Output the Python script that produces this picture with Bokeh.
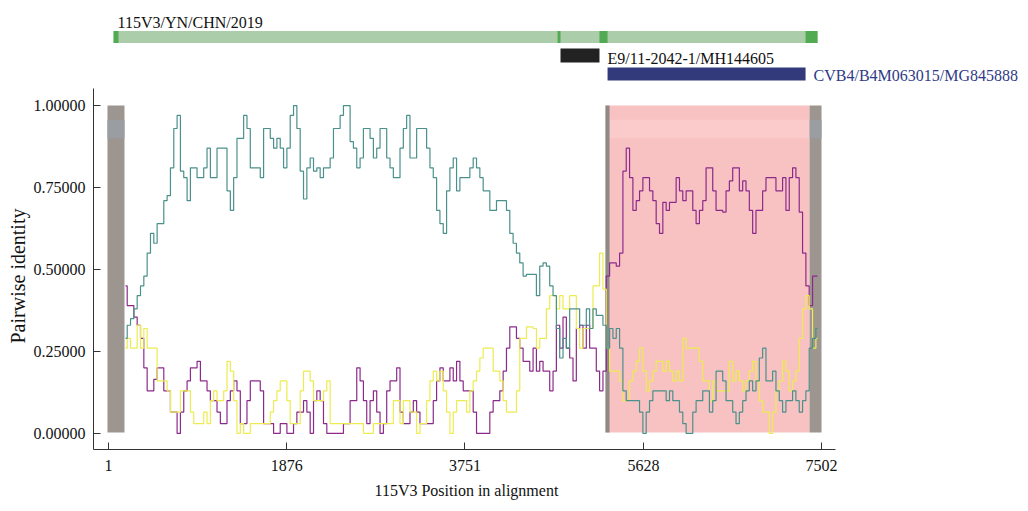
from bokeh.plotting import figure
from bokeh.models import Range1d, FixedTicker, NumeralTickFormatter, Title
from bokeh.embed import file_html
from bokeh.resources import INLINE
from bokeh.core.properties import value

# ---------------- data ----------------
positions = list(range(180, 7495, 35))

teal = [0.29,0.33,0.35,0.38,0.42,0.45,0.48,0.55,0.61,0.58,
0.64,0.64,0.71,0.725,0.81,0.93,0.97,0.80,0.78,0.71,
0.81,0.81,0.78,0.78,0.81,0.87,0.78,0.78,0.87,0.87,
0.87,0.74,0.68,0.78,0.90,0.90,0.97,0.93,0.81,0.81,
0.81,0.78,0.93,0.93,0.90,0.87,0.90,0.87,0.81,0.87,
0.97,1.00,0.93,0.80,0.715,0.81,0.84,0.80,0.81,0.78,
0.81,0.81,0.84,0.93,0.93,0.97,1.00,1.00,0.89,0.87,
0.81,0.84,0.93,0.93,0.90,0.84,0.87,0.93,0.93,0.84,
0.81,0.78,0.78,0.87,0.93,0.97,0.84,0.84,0.93,0.93,
0.93,0.87,0.81,0.78,0.68,0.64,0.61,0.74,0.81,0.84,
0.74,0.78,0.78,0.78,0.81,0.84,0.81,0.78,0.74,0.74,
0.68,0.68,0.71,0.71,0.71,0.68,0.61,0.58,0.55,0.52,
0.48,0.485,0.485,0.485,0.42,0.51,0.52,0.51,0.45,0.42,
0.32,0.23,0.29,0.26,0.38,0.38,0.38,0.33,0.33,0.38,
0.32,0.38,0.36,0.36,0.33,0.26,0.32,0.29,0.32,0.26,
0.13,0.10,0.10,0.10,0.10,0.065,0.00,0.065,0.10,0.13,
0.13,0.13,0.13,0.10,0.13,0.10,0.10,0.065,0.03,0.00,
0.00,0.065,0.10,0.10,0.13,0.13,0.065,0.10,0.19,0.19,
0.16,0.10,0.10,0.065,0.03,0.065,0.10,0.13,0.16,0.13,
0.16,0.23,0.26,0.16,0.16,0.19,0.13,0.10,0.065,0.10,
0.10,0.13,0.10,0.065,0.10,0.13,0.26,0.29,0.32]

purple = [0.45,0.39,0.39,0.355,0.33,0.29,0.20,0.13,0.13,0.165,
0.20,0.20,0.13,0.13,0.065,0.065,0.00,0.065,0.13,0.16,
0.20,0.20,0.22,0.16,0.16,0.13,0.10,0.10,0.065,0.03,
0.03,0.10,0.13,0.16,0.13,0.03,0.03,0.10,0.16,0.16,
0.16,0.13,0.03,0.03,0.03,0.00,0.00,0.03,0.03,0.00,
0.00,0.03,0.065,0.065,0.10,0.065,0.00,0.10,0.13,0.10,
0.03,0.00,0.00,0.00,0.00,0.00,0.03,0.03,0.10,0.10,
0.20,0.16,0.10,0.03,0.10,0.13,0.065,0.00,0.03,0.13,
0.16,0.16,0.20,0.065,0.03,0.03,0.065,0.10,0.065,0.03,
0.03,0.03,0.03,0.10,0.16,0.20,0.16,0.16,0.20,0.16,
0.22,0.16,0.13,0.13,0.13,0.065,0.00,0.00,0.00,0.00,
0.065,0.10,0.10,0.13,0.19,0.26,0.325,0.325,0.29,0.26,
0.22,0.22,0.19,0.26,0.19,0.22,0.19,0.19,0.13,0.19,
0.33,0.26,0.355,0.26,0.23,0.16,0.32,0.33,0.26,0.33,
0.26,0.26,0.19,0.13,0.19,0.48,0.52,0.52,0.51,0.55,
0.80,0.87,0.78,0.68,0.71,0.74,0.78,0.78,0.74,0.71,
0.64,0.61,0.705,0.68,0.705,0.705,0.78,0.74,0.71,0.74,
0.74,0.68,0.64,0.68,0.71,0.81,0.81,0.74,0.68,0.68,
0.675,0.74,0.77,0.81,0.81,0.74,0.77,0.74,0.68,0.61,
0.68,0.68,0.74,0.78,0.78,0.78,0.74,0.74,0.78,0.68,
0.78,0.81,0.78,0.675,0.55,0.45,0.39,0.48,0.48]

yellow = [0.26,0.29,0.26,0.26,0.33,0.26,0.32,0.26,0.26,0.26,
0.16,0.16,0.16,0.13,0.065,0.065,0.065,0.13,0.13,0.13,
0.065,0.03,0.03,0.03,0.065,0.03,0.10,0.13,0.10,0.10,
0.13,0.22,0.19,0.10,0.00,0.03,0.00,0.00,0.03,0.03,
0.03,0.03,0.03,0.03,0.065,0.10,0.13,0.16,0.16,0.10,
0.03,0.03,0.03,0.13,0.19,0.19,0.16,0.10,0.10,0.10,
0.13,0.16,0.03,0.03,0.03,0.03,0.03,0.03,0.03,0.03,
0.03,0.03,0.00,0.00,0.00,0.03,0.03,0.03,0.03,0.03,
0.03,0.10,0.10,0.03,0.10,0.10,0.065,0.065,0.00,0.03,
0.03,0.10,0.16,0.19,0.16,0.19,0.13,0.065,0.00,0.065,
0.10,0.10,0.10,0.065,0.13,0.16,0.19,0.23,0.26,0.26,
0.26,0.19,0.19,0.16,0.10,0.065,0.065,0.065,0.13,0.29,
0.29,0.325,0.325,0.32,0.26,0.29,0.29,0.38,0.42,0.42,
0.38,0.42,0.38,0.38,0.42,0.42,0.32,0.26,0.32,0.32,
0.32,0.45,0.45,0.55,0.44,0.26,0.19,0.19,0.19,0.16,
0.10,0.10,0.16,0.19,0.22,0.26,0.19,0.13,0.16,0.19,
0.22,0.22,0.19,0.22,0.19,0.16,0.19,0.16,0.29,0.26,
0.26,0.26,0.26,0.22,0.16,0.16,0.10,0.16,0.13,0.13,
0.13,0.13,0.22,0.16,0.19,0.16,0.13,0.16,0.19,0.22,
0.16,0.10,0.065,0.065,0.00,0.065,0.13,0.16,0.22,0.19,
0.13,0.16,0.19,0.29,0.38,0.42,0.38,0.26,0.29]

x_ticks = [1, 1876, 3751, 5628, 7502]
y_ticks = [0.0, 0.25, 0.5, 0.75, 1.0]

# shaded regions in the identity plot
region_start = [-10, 5240, 7376]
region_end = [169, 7376, 7502]
region_color = ["#9d9590", "#f8c2c2", "#9d9590"]
strip_color = ["#9a9ea2", "#fbcaca", "#9a9ea2"]
strip_low, strip_high = 0.90, 0.957
edge_start, edge_end = 5228, 5272

# genome map on top
genome_start, genome_end = 54, 7460
mark_start = [54, 4725, 5166, 7334]
mark_end = [106, 4756, 5251, 7460]
e9_start, e9_end = 4756, 5166
cvb4_start, cvb4_end = 5251, 7334
label_names = ["115V3/YN/CHN/2019", "E9/11-2042-1/MH144605", "CVB4/B4M063015/MG845888"]
label_pos = [96, 5251, 7418]

FONT = "Liberation Serif"

# ---------------- geometry ----------------
W, H = 1024, 508
LEFT, BOTTOM = 93, 59
X0, XEND = -157, 7649          # span of the x axis line
Y0, YEND = -0.049, 1.052       # span of the y axis line
frame_w = W - LEFT
frame_h = H - BOTTOM
px_per_x = 742.0 / (XEND - X0)
px_per_y = 361.0 / (YEND - Y0)
X1 = X0 + frame_w / px_per_x
Y1 = Y0 + frame_h / px_per_y


def row(px_from_top):
    """vertical layout position (pixels from top of plot) -> y data value"""
    return Y1 - px_from_top / px_per_y


p = figure(width=W, height=H, output_backend="svg", toolbar_location=None,
           x_range=Range1d(X0, X1), y_range=Range1d(Y0, Y1),
           min_border_left=LEFT, min_border_right=0,
           min_border_top=0, min_border_bottom=BOTTOM)
p.grid.visible = False
p.outline_line_color = None

# ---- genome map ----
g_top, g_bot = row(30.5), row(42.5)
p.quad(left=[genome_start], right=[genome_end], bottom=[g_bot], top=[g_top],
       fill_color="#abcdaa", line_color=None)
p.quad(left=mark_start, right=mark_end, bottom=[g_bot]*4, top=[g_top]*4,
       fill_color="#52aa52", line_color=None)
p.quad(left=[e9_start], right=[e9_end], bottom=[row(62)], top=[row(48)],
       fill_color="#222222", line_color=None)
p.quad(left=[cvb4_start], right=[cvb4_end], bottom=[row(80)], top=[row(67)],
       fill_color="#333a7b", line_color=None)
p.text(x=label_pos, y=[row(22), row(58), row(75)], text=label_names,
       text_color=["#111111", "#111111", "#2f3a86"],
       text_font=value(FONT), text_font_size="16px", text_baseline="middle",
       text_align="left")

# ---- identity plot ----
p.quad(left=region_start, right=region_end, bottom=[0.003]*3, top=[1.0]*3,
       fill_color=region_color, line_color=None)
p.quad(left=region_start, right=region_end, bottom=[strip_low]*3, top=[strip_high]*3,
       fill_color=strip_color, line_color=None)
p.quad(left=[edge_start], right=[edge_end], bottom=[0.003], top=[1.0],
       fill_color="#8f8a86", line_color=None)

p.step(positions, purple, mode="center", line_color="#8c2a8c", line_width=1.2)
p.step(positions, yellow, mode="center", line_color="#ecec50", line_width=1.2)
p.step(positions, teal, mode="center", line_color="#4a908c", line_width=1.2)

for ax in (p.xaxis, p.yaxis):
    ax.axis_line_color = "#333333"
    ax.major_tick_line_color = "#333333"
    ax.major_tick_in = 7
    ax.major_tick_out = 0
    ax.minor_tick_in = 0
    ax.minor_tick_out = 0
    ax.major_label_text_font = FONT
    ax.major_label_text_font_size = "16px"
    ax.major_label_text_color = "#111111"

p.xaxis.bounds = (X0, XEND)
p.yaxis.bounds = (Y0, YEND)
p.xaxis.ticker = FixedTicker(ticks=x_ticks)
p.yaxis.ticker = FixedTicker(ticks=y_ticks)
p.yaxis.formatter = NumeralTickFormatter(format="0.00000")
p.xaxis.major_label_standoff = 10
p.yaxis.major_label_standoff = 8

# axis titles, placed so they are centred on the bounded axes
p.add_layout(Title(text="115V3  Position in alignment", align="left", offset=281,
                   text_font=FONT, text_font_size="16px", text_font_style="normal",
                   text_color="#111111", standoff=12), "below")
p.add_layout(Title(text="Pairwise identity", align="left", offset=106,
                   text_font=FONT, text_font_size="20px", text_font_style="normal",
                   text_color="#111111", standoff=3), "left")

open("out.html", "w").write(file_html(p, INLINE))
